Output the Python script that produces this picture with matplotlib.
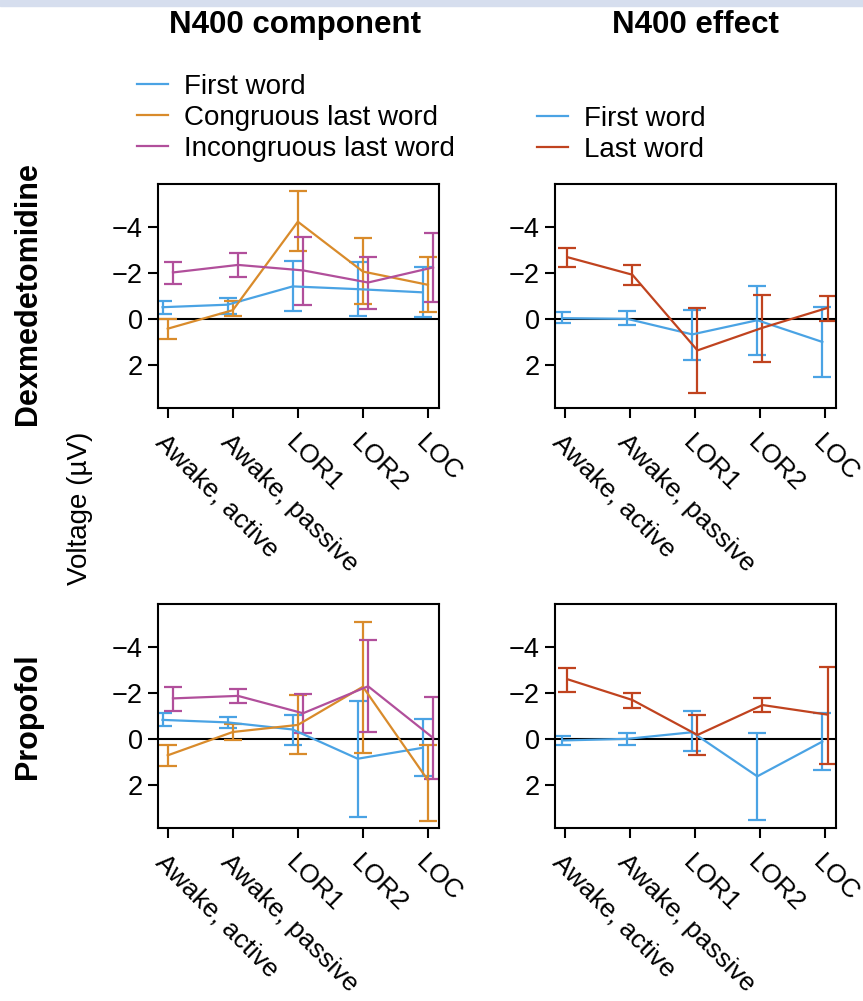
import numpy as np
import matplotlib
matplotlib.use("Agg")
import matplotlib.pyplot as plt
from matplotlib.lines import Line2D
from matplotlib.patches import Rectangle

plt.rcParams["font.family"] = ["Liberation Sans", "DejaVu Sans"]

conditions = ["Awake, active", "Awake, passive", "LOR1", "LOR2", "LOC"]

# N400 component, dexmedetomidine (mean, lower, upper of error bar)
dex_first = [-0.51, -0.62, -1.42, -1.30, -1.16]
dex_first_lo = [-0.80, -0.90, -2.54, -2.50, -2.26]
dex_first_hi = [-0.22, -0.20, -0.33, -0.12, -0.07]
dex_cong = [0.43, -0.38, -4.25, -2.07, -1.49]
dex_cong_lo = [0.00, -0.77, -5.58, -3.52, -2.72]
dex_cong_hi = [0.87, -0.12, -2.99, -0.64, -0.29]
dex_incong = [-2.03, -2.36, -2.12, -1.59, -2.25]
dex_incong_lo = [-2.49, -2.88, -3.58, -2.72, -3.77]
dex_incong_hi = [-1.54, -1.84, -0.62, -0.41, -0.74]

# N400 effect, dexmedetomidine
dex_eff_first = [-0.03, 0.00, 0.68, 0.06, 1.01]
dex_eff_first_lo = [-0.29, -0.36, -0.39, -1.42, -0.51]
dex_eff_first_hi = [0.20, 0.26, 1.80, 1.59, 2.54]
dex_eff_last = [-2.70, -1.93, 1.38, 0.39, -0.48]
dex_eff_last_lo = [-3.09, -2.36, -0.48, -1.04, -1.01]
dex_eff_last_hi = [-2.29, -1.46, 3.26, 1.87, 0.10]

# N400 component, propofol
pro_first = [-0.83, -0.72, -0.41, 0.87, 0.39]
pro_first_lo = [-1.13, -0.97, -1.06, -1.64, -0.87]
pro_first_hi = [-0.57, -0.48, 0.29, 3.42, 1.64]
pro_cong = [0.72, -0.30, -0.61, -2.28, 1.81]
pro_cong_lo = [0.26, -0.64, -1.91, -5.12, 0.25]
pro_cong_hi = [1.20, 0.03, 0.68, 0.62, 3.59]
pro_incong = [-1.77, -1.88, -1.12, -2.30, -0.04]
pro_incong_lo = [-2.29, -2.19, -1.96, -4.32, -1.84]
pro_incong_hi = [-1.23, -1.57, -0.26, -0.32, 1.74]

# N400 effect, propofol
pro_eff_first = [0.07, 0.00, -0.29, 1.64, 0.12]
pro_eff_first_lo = [-0.12, -0.25, -1.20, -0.25, -1.13]
pro_eff_first_hi = [0.26, 0.26, 0.55, 3.55, 1.38]
pro_eff_last = [-2.61, -1.70, -0.17, -1.48, -1.06]
pro_eff_last_lo = [-3.09, -2.01, -1.06, -1.77, -3.14]
pro_eff_last_hi = [-2.06, -1.35, 0.70, -1.16, 1.12]

BLUE = "#4aa3e4"
ORANGE = "#d98b2b"
PURPLE = "#b14f9b"
RED = "#c0431f"

fig = plt.figure(figsize=(8.63, 10.01), dpi=100)
fig.patches.append(Rectangle((0, 1 - 6 / 1001), 1, 6 / 1001, transform=fig.transFigure,
                             color="#d6deee", zorder=0))

x = np.arange(1, 6)


def draw(ax, series):
    for mean, lo, hi, color, off in series:
        mean = np.array(mean)
        xs = x + off
        ax.errorbar(xs, mean, yerr=[mean - np.array(lo), np.array(hi) - mean],
                    color=color, lw=1.6, elinewidth=1.6, capsize=6.5, capthick=1.6)
    ax.axhline(0, color="black", lw=1.5, zorder=0.5)
    ax.set_ylim(3.9, -5.9)
    ax.set_xlim(0.85, 5.17)
    ax.set_yticks([-4, -2, 0, 2])
    ax.set_yticklabels(["\u22124", "\u22122", "0", "2"])
    ax.set_xticks(x)
    ax.set_xticklabels(conditions, rotation=-45, ha="left", va="top",
                       rotation_mode="anchor")
    ax.tick_params(length=7, width=1.5, labelsize=19.5, direction="out", pad=4)
    ax.tick_params(axis="x", labelsize=19, pad=9)
    for s in ax.spines.values():
        s.set_linewidth(1.5)


W, H = 281 / 863, 224 / 1001
ax1 = fig.add_axes([158 / 863, 1 - 408 / 1001, W, H])
ax2 = fig.add_axes([555 / 863, 1 - 408 / 1001, W, H])
ax3 = fig.add_axes([158 / 863, 1 - 828 / 1001, W, H])
ax4 = fig.add_axes([555 / 863, 1 - 828 / 1001, W, H])

draw(ax1, [(dex_first, dex_first_lo, dex_first_hi, BLUE, -0.08),
           (dex_cong, dex_cong_lo, dex_cong_hi, ORANGE, 0.0),
           (dex_incong, dex_incong_lo, dex_incong_hi, PURPLE, 0.08)])
draw(ax2, [(dex_eff_first, dex_eff_first_lo, dex_eff_first_hi, BLUE, -0.04),
           (dex_eff_last, dex_eff_last_lo, dex_eff_last_hi, RED, 0.04)])
draw(ax3, [(pro_first, pro_first_lo, pro_first_hi, BLUE, -0.08),
           (pro_cong, pro_cong_lo, pro_cong_hi, ORANGE, 0.0),
           (pro_incong, pro_incong_lo, pro_incong_hi, PURPLE, 0.08)])
draw(ax4, [(pro_eff_first, pro_eff_first_lo, pro_eff_first_hi, BLUE, -0.04),
           (pro_eff_last, pro_eff_last_lo, pro_eff_last_hi, RED, 0.04)])

# titles and row labels
fig.text(295 / 863, 1 - 25 / 1001, "N400 component", fontsize=22.5, fontweight="bold",
         ha="center", va="center")
fig.text(695 / 863, 1 - 25 / 1001, "N400 effect", fontsize=22.5, fontweight="bold",
         ha="center", va="center")
fig.text(28 / 863, 1 - 294 / 1001, "Dexmedetomidine", fontsize=22, fontweight="bold",
         rotation=90, ha="center", va="center")
fig.text(28 / 863, 1 - 716 / 1001, "Propofol", fontsize=22, fontweight="bold",
         rotation=90, ha="center", va="center")
fig.text(80 / 863, 1 - 508 / 1001, "Voltage (\u00b5V)", fontsize=20,
         rotation=90, ha="center", va="center")

# legends
h1 = [Line2D([], [], color=c, lw=1.6) for c in (BLUE, ORANGE, PURPLE)]
fig.legend(h1, ["First word", "Congruous last word", "Incongruous last word"],
           loc="upper left", bbox_to_anchor=(137 / 863, 1 - 74 / 1001), frameon=False,
           fontsize=20, handlelength=1.1, handletextpad=0.6, labelspacing=0.18,
           borderaxespad=0, borderpad=0)
h2 = [Line2D([], [], color=c, lw=1.6) for c in (BLUE, RED)]
fig.legend(h2, ["First word", "Last word"],
           loc="upper left", bbox_to_anchor=(537 / 863, 1 - 106 / 1001), frameon=False,
           fontsize=20, handlelength=1.1, handletextpad=0.6, labelspacing=0.18,
           borderaxespad=0, borderpad=0)

fig.savefig("out.png", dpi=100)
